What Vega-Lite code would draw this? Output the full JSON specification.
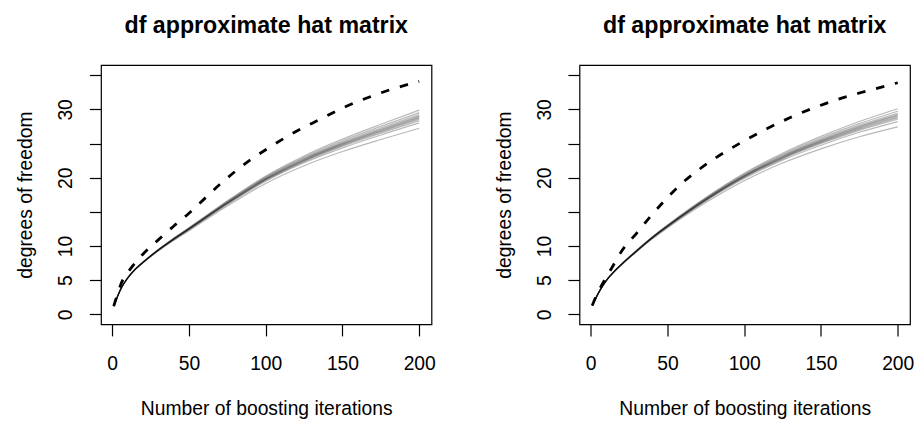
{
  "$schema": "https://vega.github.io/schema/vega-lite/v6.json",
  "background": "white",
  "padding": {"left": 16, "top": 13, "right": 2, "bottom": 2},
  "bounds": "flush",
  "spacing": 147.5,
  "config": {
    "font": "Liberation Sans",
    "view": {"stroke": "black", "strokeWidth": 1.2},
    "axis": {
      "domain": false, "grid": false, "ticks": true,
      "tickColor": "black", "tickWidth": 1.2, "tickSize": 11.6,
      "labelFont": "Liberation Sans", "labelFontSize": 19.3, "labelColor": "black",
      "titleFont": "Liberation Sans", "titleFontSize": 19.3, "titleFontWeight": "normal", "titleColor": "black",
      "labelFlush": false, "labelOverlap": false
    },
    "axisY": {"labelAngle": 270, "labelAlign": "center", "labelBaseline": "alphabetic", "labelPadding": 17.7, "labelOverlap": false},
    "title": {"font": "Liberation Sans", "fontSize": 23.2, "fontWeight": "bold", "color": "black", "anchor": "middle", "frame": "group", "baseline": "alphabetic", "offset": 26.7}
  },
  "datasets": {
    "g1": [
      {"s":"A","x":1,"y":1.2},{"s":"A","x":6,"y":3.91},{"s":"A","x":10,"y":5.32},{"s":"A","x":15,"y":6.64},{"s":"A","x":20,"y":7.65},{"s":"A","x":30,"y":9.49},{"s":"A","x":40,"y":11.13},{"s":"A","x":50,"y":12.68},{"s":"A","x":65,"y":15.05},{"s":"A","x":75,"y":16.61},{"s":"A","x":100,"y":20.25},{"s":"A","x":125,"y":23.19},{"s":"A","x":150,"y":25.65},{"s":"A","x":175,"y":27.82},{"s":"A","x":200,"y":29.89},
      {"s":"B","x":1,"y":1.2},{"s":"B","x":6,"y":3.91},{"s":"B","x":10,"y":5.31},{"s":"B","x":15,"y":6.63},{"s":"B","x":20,"y":7.64},{"s":"B","x":30,"y":9.46},{"s":"B","x":40,"y":11.09},{"s":"B","x":50,"y":12.62},{"s":"B","x":65,"y":14.97},{"s":"B","x":75,"y":16.5},{"s":"B","x":100,"y":20.1},{"s":"B","x":125,"y":22.99},{"s":"B","x":150,"y":25.4},{"s":"B","x":175,"y":27.51},{"s":"B","x":200,"y":29.53},
      {"s":"C","x":1,"y":1.2},{"s":"C","x":6,"y":3.91},{"s":"C","x":10,"y":5.31},{"s":"C","x":15,"y":6.62},{"s":"C","x":20,"y":7.62},{"s":"C","x":30,"y":9.44},{"s":"C","x":40,"y":11.05},{"s":"C","x":50,"y":12.57},{"s":"C","x":65,"y":14.9},{"s":"C","x":75,"y":16.42},{"s":"C","x":100,"y":19.98},{"s":"C","x":125,"y":22.84},{"s":"C","x":150,"y":25.2},{"s":"C","x":175,"y":27.27},{"s":"C","x":200,"y":29.24},
      {"s":"D","x":1,"y":1.2},{"s":"D","x":6,"y":3.9},{"s":"D","x":10,"y":5.3},{"s":"D","x":15,"y":6.61},{"s":"D","x":20,"y":7.61},{"s":"D","x":30,"y":9.42},{"s":"D","x":40,"y":11.03},{"s":"D","x":50,"y":12.54},{"s":"D","x":65,"y":14.85},{"s":"D","x":75,"y":16.37},{"s":"D","x":100,"y":19.9},{"s":"D","x":125,"y":22.73},{"s":"D","x":150,"y":25.06},{"s":"D","x":175,"y":27.1},{"s":"D","x":200,"y":29.03},
      {"s":"E","x":1,"y":1.2},{"s":"E","x":6,"y":3.9},{"s":"E","x":10,"y":5.3},{"s":"E","x":15,"y":6.6},{"s":"E","x":20,"y":7.6},{"s":"E","x":30,"y":9.41},{"s":"E","x":40,"y":11.01},{"s":"E","x":50,"y":12.51},{"s":"E","x":65,"y":14.82},{"s":"E","x":75,"y":16.32},{"s":"E","x":100,"y":19.83},{"s":"E","x":125,"y":22.64},{"s":"E","x":150,"y":24.95},{"s":"E","x":175,"y":26.97},{"s":"E","x":200,"y":28.88},
      {"s":"F","x":1,"y":1.2},{"s":"F","x":6,"y":3.9},{"s":"F","x":10,"y":5.3},{"s":"F","x":15,"y":6.6},{"s":"F","x":20,"y":7.6},{"s":"F","x":30,"y":9.39},{"s":"F","x":40,"y":10.99},{"s":"F","x":50,"y":12.49},{"s":"F","x":65,"y":14.78},{"s":"F","x":75,"y":16.28},{"s":"F","x":100,"y":19.77},{"s":"F","x":125,"y":22.56},{"s":"F","x":150,"y":24.85},{"s":"F","x":175,"y":26.83},{"s":"F","x":200,"y":28.72},
      {"s":"G","x":1,"y":1.2},{"s":"G","x":6,"y":3.9},{"s":"G","x":10,"y":5.3},{"s":"G","x":15,"y":6.59},{"s":"G","x":20,"y":7.59},{"s":"G","x":30,"y":9.38},{"s":"G","x":40,"y":10.97},{"s":"G","x":50,"y":12.46},{"s":"G","x":65,"y":14.75},{"s":"G","x":75,"y":16.23},{"s":"G","x":100,"y":19.7},{"s":"G","x":125,"y":22.47},{"s":"G","x":150,"y":24.74},{"s":"G","x":175,"y":26.7},{"s":"G","x":200,"y":28.57},
      {"s":"H","x":1,"y":1.2},{"s":"H","x":6,"y":3.89},{"s":"H","x":10,"y":5.29},{"s":"H","x":15,"y":6.58},{"s":"H","x":20,"y":7.58},{"s":"H","x":30,"y":9.36},{"s":"H","x":40,"y":10.95},{"s":"H","x":50,"y":12.43},{"s":"H","x":65,"y":14.7},{"s":"H","x":75,"y":16.18},{"s":"H","x":100,"y":19.62},{"s":"H","x":125,"y":22.36},{"s":"H","x":150,"y":24.6},{"s":"H","x":175,"y":26.53},{"s":"H","x":200,"y":28.36},
      {"s":"I","x":1,"y":1.2},{"s":"I","x":6,"y":3.89},{"s":"I","x":10,"y":5.28},{"s":"I","x":15,"y":6.57},{"s":"I","x":20,"y":7.56},{"s":"I","x":30,"y":9.33},{"s":"I","x":40,"y":10.9},{"s":"I","x":50,"y":12.37},{"s":"I","x":65,"y":14.62},{"s":"I","x":75,"y":16.08},{"s":"I","x":100,"y":19.48},{"s":"I","x":125,"y":22.18},{"s":"I","x":150,"y":24.36},{"s":"I","x":175,"y":26.25},{"s":"I","x":200,"y":28.02},
      {"s":"J","x":1,"y":1.2},{"s":"J","x":6,"y":3.88},{"s":"J","x":10,"y":5.27},{"s":"J","x":15,"y":6.55},{"s":"J","x":20,"y":7.52},{"s":"J","x":30,"y":9.27},{"s":"J","x":40,"y":10.81},{"s":"J","x":50,"y":12.24},{"s":"J","x":65,"y":14.44},{"s":"J","x":75,"y":15.86},{"s":"J","x":100,"y":19.16},{"s":"J","x":125,"y":21.75},{"s":"J","x":150,"y":23.83},{"s":"J","x":175,"y":25.59},{"s":"J","x":200,"y":27.24}
    ],
    "d1": [
      {"x":1,"y":1.2},{"x":7,"y":5.1},{"x":12,"y":6.7},{"x":20,"y":8.8},{"x":30,"y":10.9},{"x":40,"y":12.9},{"x":50,"y":14.8},{"x":60,"y":16.9},{"x":70,"y":19.0},{"x":80,"y":20.9},{"x":90,"y":22.6},{"x":100,"y":24.1},{"x":110,"y":25.5},{"x":120,"y":26.8},{"x":135,"y":28.5},{"x":150,"y":30.2},{"x":165,"y":31.6},{"x":180,"y":32.8},{"x":200,"y":34.1}
    ],
    "g2": [
      {"s":"A","x":1,"y":1.3},{"s":"A","x":6,"y":3.51},{"s":"A","x":10,"y":4.92},{"s":"A","x":15,"y":6.24},{"s":"A","x":20,"y":7.35},{"s":"A","x":30,"y":9.39},{"s":"A","x":40,"y":11.33},{"s":"A","x":50,"y":13.08},{"s":"A","x":65,"y":15.55},{"s":"A","x":75,"y":17.11},{"s":"A","x":100,"y":20.65},{"s":"A","x":125,"y":23.59},{"s":"A","x":150,"y":26.05},{"s":"A","x":175,"y":28.22},{"s":"A","x":200,"y":30.09},
      {"s":"B","x":1,"y":1.3},{"s":"B","x":6,"y":3.51},{"s":"B","x":10,"y":4.91},{"s":"B","x":15,"y":6.23},{"s":"B","x":20,"y":7.34},{"s":"B","x":30,"y":9.36},{"s":"B","x":40,"y":11.29},{"s":"B","x":50,"y":13.02},{"s":"B","x":65,"y":15.47},{"s":"B","x":75,"y":17.0},{"s":"B","x":100,"y":20.5},{"s":"B","x":125,"y":23.39},{"s":"B","x":150,"y":25.8},{"s":"B","x":175,"y":27.91},{"s":"B","x":200,"y":29.73},
      {"s":"C","x":1,"y":1.3},{"s":"C","x":6,"y":3.51},{"s":"C","x":10,"y":4.91},{"s":"C","x":15,"y":6.22},{"s":"C","x":20,"y":7.32},{"s":"C","x":30,"y":9.34},{"s":"C","x":40,"y":11.25},{"s":"C","x":50,"y":12.97},{"s":"C","x":65,"y":15.4},{"s":"C","x":75,"y":16.92},{"s":"C","x":100,"y":20.38},{"s":"C","x":125,"y":23.24},{"s":"C","x":150,"y":25.6},{"s":"C","x":175,"y":27.67},{"s":"C","x":200,"y":29.44},
      {"s":"D","x":1,"y":1.3},{"s":"D","x":6,"y":3.5},{"s":"D","x":10,"y":4.9},{"s":"D","x":15,"y":6.21},{"s":"D","x":20,"y":7.31},{"s":"D","x":30,"y":9.32},{"s":"D","x":40,"y":11.23},{"s":"D","x":50,"y":12.94},{"s":"D","x":65,"y":15.35},{"s":"D","x":75,"y":16.87},{"s":"D","x":100,"y":20.3},{"s":"D","x":125,"y":23.13},{"s":"D","x":150,"y":25.46},{"s":"D","x":175,"y":27.5},{"s":"D","x":200,"y":29.23},
      {"s":"E","x":1,"y":1.3},{"s":"E","x":6,"y":3.5},{"s":"E","x":10,"y":4.9},{"s":"E","x":15,"y":6.2},{"s":"E","x":20,"y":7.3},{"s":"E","x":30,"y":9.31},{"s":"E","x":40,"y":11.21},{"s":"E","x":50,"y":12.91},{"s":"E","x":65,"y":15.32},{"s":"E","x":75,"y":16.82},{"s":"E","x":100,"y":20.23},{"s":"E","x":125,"y":23.04},{"s":"E","x":150,"y":25.35},{"s":"E","x":175,"y":27.37},{"s":"E","x":200,"y":29.08},
      {"s":"F","x":1,"y":1.3},{"s":"F","x":6,"y":3.5},{"s":"F","x":10,"y":4.9},{"s":"F","x":15,"y":6.2},{"s":"F","x":20,"y":7.3},{"s":"F","x":30,"y":9.29},{"s":"F","x":40,"y":11.19},{"s":"F","x":50,"y":12.89},{"s":"F","x":65,"y":15.28},{"s":"F","x":75,"y":16.78},{"s":"F","x":100,"y":20.17},{"s":"F","x":125,"y":22.96},{"s":"F","x":150,"y":25.25},{"s":"F","x":175,"y":27.23},{"s":"F","x":200,"y":28.92},
      {"s":"G","x":1,"y":1.3},{"s":"G","x":6,"y":3.5},{"s":"G","x":10,"y":4.9},{"s":"G","x":15,"y":6.19},{"s":"G","x":20,"y":7.29},{"s":"G","x":30,"y":9.28},{"s":"G","x":40,"y":11.17},{"s":"G","x":50,"y":12.86},{"s":"G","x":65,"y":15.25},{"s":"G","x":75,"y":16.73},{"s":"G","x":100,"y":20.1},{"s":"G","x":125,"y":22.87},{"s":"G","x":150,"y":25.14},{"s":"G","x":175,"y":27.1},{"s":"G","x":200,"y":28.77},
      {"s":"H","x":1,"y":1.3},{"s":"H","x":6,"y":3.49},{"s":"H","x":10,"y":4.89},{"s":"H","x":15,"y":6.18},{"s":"H","x":20,"y":7.28},{"s":"H","x":30,"y":9.26},{"s":"H","x":40,"y":11.15},{"s":"H","x":50,"y":12.83},{"s":"H","x":65,"y":15.2},{"s":"H","x":75,"y":16.68},{"s":"H","x":100,"y":20.02},{"s":"H","x":125,"y":22.76},{"s":"H","x":150,"y":25.0},{"s":"H","x":175,"y":26.93},{"s":"H","x":200,"y":28.56},
      {"s":"I","x":1,"y":1.3},{"s":"I","x":6,"y":3.49},{"s":"I","x":10,"y":4.88},{"s":"I","x":15,"y":6.17},{"s":"I","x":20,"y":7.26},{"s":"I","x":30,"y":9.23},{"s":"I","x":40,"y":11.1},{"s":"I","x":50,"y":12.77},{"s":"I","x":65,"y":15.12},{"s":"I","x":75,"y":16.58},{"s":"I","x":100,"y":19.88},{"s":"I","x":125,"y":22.58},{"s":"I","x":150,"y":24.76},{"s":"I","x":175,"y":26.65},{"s":"I","x":200,"y":28.22},
      {"s":"J","x":1,"y":1.3},{"s":"J","x":6,"y":3.48},{"s":"J","x":10,"y":4.87},{"s":"J","x":15,"y":6.15},{"s":"J","x":20,"y":7.22},{"s":"J","x":30,"y":9.17},{"s":"J","x":40,"y":11.01},{"s":"J","x":50,"y":12.64},{"s":"J","x":65,"y":14.94},{"s":"J","x":75,"y":16.36},{"s":"J","x":100,"y":19.56},{"s":"J","x":125,"y":22.15},{"s":"J","x":150,"y":24.23},{"s":"J","x":175,"y":25.99},{"s":"J","x":200,"y":27.44}
    ],
    "d2": [
      {"x":1,"y":1.3},{"x":4,"y":2.9},{"x":8,"y":4.6},{"x":14,"y":6.9},{"x":20,"y":9.2},{"x":30,"y":11.9},{"x":40,"y":14.6},{"x":50,"y":17.1},{"x":60,"y":19.3},{"x":70,"y":21.1},{"x":80,"y":22.7},{"x":90,"y":24.1},{"x":100,"y":25.4},{"x":115,"y":27.2},{"x":130,"y":28.8},{"x":145,"y":30.2},{"x":160,"y":31.4},{"x":175,"y":32.4},{"x":190,"y":33.3},{"x":200,"y":33.9}
    ]
  },
  "hconcat": [
    {
      "width": 330.5, "height": 259.3,
      "title": {"text": "df approximate hat matrix"},
      "encoding": {
        "x": {"field": "x", "type": "quantitative", "scale": {"domain": [-7.3, 208], "nice": false, "zero": false},
              "axis": {"values": [0, 50, 100, 150, 200], "labelBaseline": "alphabetic", "labelPadding": 33.4, "title": "Number of boosting iterations", "titleBaseline": "alphabetic", "titleY": 90}},
        "y": {"field": "y", "type": "quantitative", "scale": {"domain": [-1.46, 36.5], "nice": false, "zero": false},
              "axis": {"values": [0, 5, 10, 15, 20, 25, 30, 35], "labelExpr": "(datum.value == 15 || datum.value == 25 || datum.value == 35) ? '' : datum.label", "labelAngle": 270, "labelAlign": "center", "labelBaseline": "alphabetic", "labelPadding": 17.7, "labelOverlap": false, "title": "degrees of freedom", "titleAngle": 270, "titleAlign": "center", "titleBaseline": "alphabetic", "titleX": -69.3, "titleY": 129.65}}
      },
      "layer": [
        {
          "data": {"name": "g1"},
          "mark": {"type": "line", "color": "black", "opacity": 0.28, "strokeWidth": 1.2, "interpolate": "monotone"},
          "encoding": {"detail": {"field": "s", "type": "nominal"}}
        },
        {
          "data": {"name": "d1"},
          "mark": {"type": "line", "color": "black", "strokeWidth": 2.8, "strokeDash": [8.5, 11], "strokeCap": "butt", "interpolate": "monotone"},
          "encoding": {}
        }
      ]
    },
    {
      "width": 330.5, "height": 259.3,
      "title": {"text": "df approximate hat matrix"},
      "encoding": {
        "x": {"field": "x", "type": "quantitative", "scale": {"domain": [-7.3, 208], "nice": false, "zero": false},
              "axis": {"values": [0, 50, 100, 150, 200], "labelBaseline": "alphabetic", "labelPadding": 33.4, "title": "Number of boosting iterations", "titleBaseline": "alphabetic", "titleY": 90}},
        "y": {"field": "y", "type": "quantitative", "scale": {"domain": [-1.46, 36.5], "nice": false, "zero": false},
              "axis": {"values": [0, 5, 10, 15, 20, 25, 30, 35], "labelExpr": "(datum.value == 15 || datum.value == 25 || datum.value == 35) ? '' : datum.label", "labelAngle": 270, "labelAlign": "center", "labelBaseline": "alphabetic", "labelPadding": 17.7, "labelOverlap": false, "title": "degrees of freedom", "titleAngle": 270, "titleAlign": "center", "titleBaseline": "alphabetic", "titleX": -69.3, "titleY": 129.65}}
      },
      "layer": [
        {
          "data": {"name": "g2"},
          "mark": {"type": "line", "color": "black", "opacity": 0.28, "strokeWidth": 1.2, "interpolate": "monotone"},
          "encoding": {"detail": {"field": "s", "type": "nominal"}}
        },
        {
          "data": {"name": "d2"},
          "mark": {"type": "line", "color": "black", "strokeWidth": 2.8, "strokeDash": [8.5, 11], "strokeCap": "butt", "interpolate": "monotone"},
          "encoding": {}
        }
      ]
    }
  ]
}
